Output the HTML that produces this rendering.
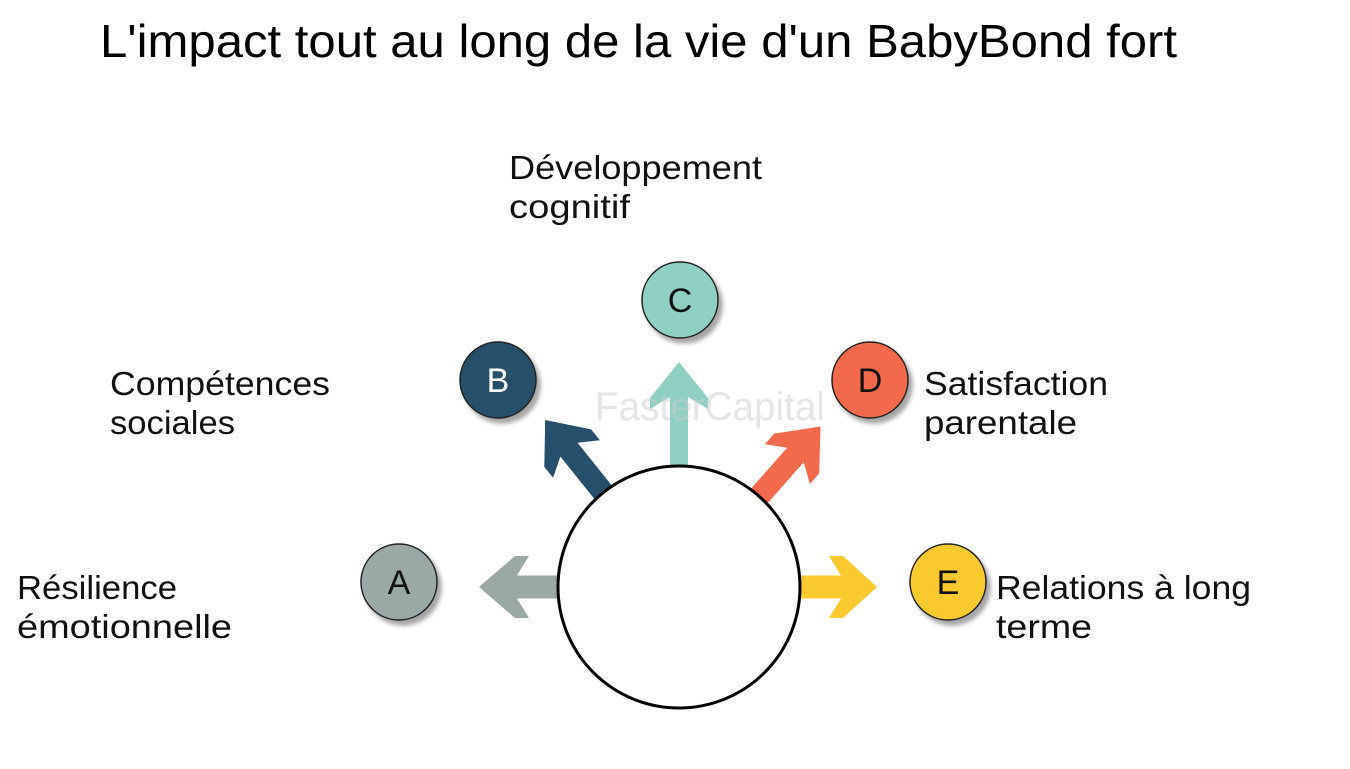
<!DOCTYPE html>
<html><head><meta charset="utf-8"><style>
html,body{margin:0;padding:0;background:#fff;}
svg{display:block;}
text{font-family:"Liberation Sans",sans-serif;}
</style></head><body>
<svg width="1350" height="769" viewBox="0 0 1350 769" xmlns="http://www.w3.org/2000/svg">
<defs>
<filter id="sh" x="-30%" y="-30%" width="160%" height="160%">
<feDropShadow dx="4" dy="5" stdDeviation="2" flood-color="#000" flood-opacity="0.35"/>
</filter>
</defs>
<text x="100" y="57" font-size="46" fill="#000" textLength="1077" lengthAdjust="spacingAndGlyphs">L'impact tout au long de la vie d'un BabyBond fort</text>

<g font-size="33" fill="#111">
<text x="509" y="179" textLength="253" lengthAdjust="spacingAndGlyphs">Développement</text>
<text x="509" y="218" textLength="121" lengthAdjust="spacingAndGlyphs">cognitif</text>
<text x="110" y="395" textLength="220" lengthAdjust="spacingAndGlyphs">Compétences</text>
<text x="110" y="434" textLength="125" lengthAdjust="spacingAndGlyphs">sociales</text>
<text x="924" y="395" textLength="184" lengthAdjust="spacingAndGlyphs">Satisfaction</text>
<text x="924" y="434" textLength="153" lengthAdjust="spacingAndGlyphs">parentale</text>
<text x="17" y="599" textLength="160" lengthAdjust="spacingAndGlyphs">Résilience</text>
<text x="17" y="638" textLength="215" lengthAdjust="spacingAndGlyphs">émotionnelle</text>
<text x="996" y="599" textLength="255" lengthAdjust="spacingAndGlyphs">Relations à long</text>
<text x="996" y="638" textLength="96" lengthAdjust="spacingAndGlyphs">terme</text>
</g>

<g transform="translate(679,587) rotate(180)"><polygon fill="#9aa9a6" points="110,-11.5 162,-11.5 150,-31 164,-31 200,0 164,31 150,31 162,11.5 110,11.5"/></g>
<g transform="translate(679,587)"><polygon fill="#f9c92f" points="110,-11.5 162,-11.5 150,-31 164,-31 198,0 164,31 150,31 162,11.5 110,11.5"/></g>
<g transform="translate(679,587) rotate(-90)"><polygon fill="#8fd0c2" points="110,-9 190,-9 178,-29 189,-29 225,0 189,29 178,29 190,9 110,9"/></g>
<g transform="translate(679,587) rotate(-128.7)"><polygon fill="#264f6b" points="110,-11 176,-11 164,-30 178,-30 214,0 178,30 164,30 176,11 110,11"/></g>
<g transform="translate(679,587) rotate(-48.6)"><polygon fill="#f26a4b" points="110,-11 176,-11 164,-30 178,-30 214,0 178,30 164,30 176,11 110,11"/></g>

<text x="595" y="420" font-size="40" fill="#ccc" fill-opacity="0.5" textLength="230" lengthAdjust="spacingAndGlyphs">FasterCapital</text>

<circle cx="679" cy="587" r="121" fill="#fff" stroke="#000" stroke-width="3"/>

<g stroke="#222" stroke-width="1.5">
<circle cx="399" cy="582" r="38" fill="#9aa9a6" filter="url(#sh)"/>
<circle cx="498" cy="380" r="38" fill="#264f6b" filter="url(#sh)"/>
<circle cx="680" cy="300" r="38" fill="#8fd0c2" filter="url(#sh)"/>
<circle cx="870" cy="380" r="38" fill="#f26a4b" filter="url(#sh)"/>
<circle cx="948" cy="582" r="38" fill="#f9c92f" filter="url(#sh)"/>
</g>
<g font-size="34" text-anchor="middle">
<text x="399" y="594" fill="#111">A</text>
<text x="498" y="392" fill="#fff">B</text>
<text x="680" y="312" fill="#111">C</text>
<text x="870" y="392" fill="#111">D</text>
<text x="948" y="594" fill="#111">E</text>
</g>
</svg>
</body></html>
